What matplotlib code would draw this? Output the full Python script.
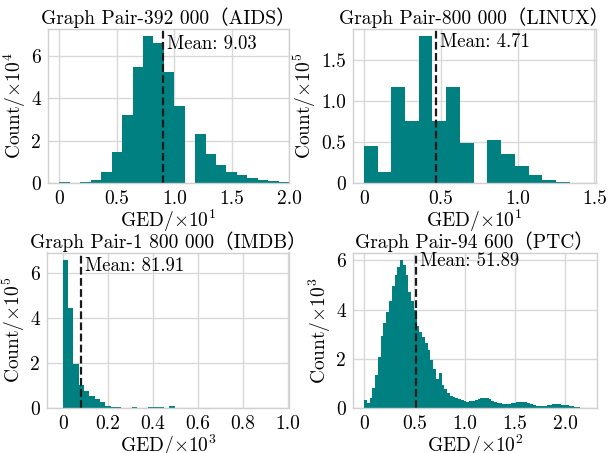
import numpy as np
import matplotlib
matplotlib.use("Agg")
import matplotlib.pyplot as plt

plt.rcParams['font.family'] = ['cmr10', 'Noto Sans CJK SC', 'DejaVu Serif']
plt.rcParams['mathtext.fontset'] = 'cm'
plt.rcParams['axes.unicode_minus'] = False
plt.rcParams['axes.formatter.use_mathtext'] = True

# ---------------- data ----------------
titles = ["Graph Pair-392 000（AIDS）", "Graph Pair-800 000（LINUX）",
          "Graph Pair-1 800 000（IMDB）", "Graph Pair-94 600（PTC）"]
means = [0.903, 0.471, 0.08191, 0.5189]
mean_labels = ["Mean: 9.03", "Mean: 4.71", "Mean: 81.91", "Mean: 51.89"]
x_units = ["1", "1", "3", "2"]
y_units = ["4", "5", "5", "3"]

aids_range = (0.0, 2.0)
aids_counts = [0.05, 0.0, 0.05, 0.17, 0.54, 1.48, 3.22, 5.48, 6.93, 6.61, 5.23, 3.62,
               0.0, 2.3, 1.36, 0.85, 0.52, 0.38, 0.25, 0.16, 0.1, 0.05]

linux_range = (0.0, 1.34)
linux_counts = [0.45, 0.14, 1.17, 0.76, 1.79, 0.76, 1.17, 0.49, 0.0, 0.53, 0.35,
                0.21, 0.1, 0.04, 0.01]

imdb_range = (0.0, 0.9)
imdb_counts = [6.6, 4.47, 1.95, 1.02, 0.78, 0.55, 0.4, 0.27, 0.12, 0.07, 0.04, 0.03,
               0.02, 0.05, 0.02, 0.02, 0.05, 0.06, 0.05, 0.02, 0.1, 0.02, 0.02, 0.02,
               0.02, 0.02, 0.02, 0.02, 0.02, 0.02, 0.02, 0.02, 0.0, 0.0, 0.0, 0.03,
               0.03, 0.0]

ptc_range = (0.0, 2.2)
ptc_counts = [0.34, 0.2, 0.41, 0.82, 1.36, 2.1, 2.92, 3.47, 3.9, 4.35, 4.97, 5.4,
              5.75, 6.02, 5.8, 5.4, 4.7, 4.35, 4.0, 3.35, 3.1, 2.9, 2.65, 2.35,
              1.95, 1.6, 1.2, 1.45, 0.95, 0.78, 0.63, 0.5, 0.45, 0.42, 0.38, 0.34,
              0.3, 0.27, 0.28, 0.31, 0.35, 0.39, 0.42, 0.43, 0.41, 0.37, 0.31, 0.27,
              0.22, 0.2, 0.18, 0.17, 0.19, 0.22, 0.23, 0.25, 0.27, 0.26, 0.27, 0.22,
              0.17, 0.13, 0.1, 0.08, 0.08, 0.09, 0.12, 0.15, 0.16, 0.16, 0.16, 0.15,
              0.15, 0.14, 0.11, 0.08, 0.06, 0.04, 0.02, 0.01]

x_ticks = [[0, 0.5, 1.0, 1.5, 2.0], [0, 0.5, 1.0, 1.5],
           [0, 0.2, 0.4, 0.6, 0.8, 1.0], [0, 0.5, 1.0, 1.5, 2.0]]
x_ticklabels = [["0", "0.5", "1.0", "1.5", "2.0"], ["0", "0.5", "1.0", "1.5"],
                ["0", "0.2", "0.4", "0.6", "0.8", "1.0"], ["0", "0.5", "1.0", "1.5", "2.0"]]
y_ticks = [[0, 2, 4, 6], [0, 0.5, 1.0, 1.5], [0, 2, 4, 6], [0, 2, 4, 6]]
y_ticklabels = [["0", "2", "4", "6"], ["0", "0.5", "1.0", "1.5"],
                ["0", "2", "4", "6"], ["0", "2", "4", "6"]]
x_limits = [(-0.1, 2.0), (-0.07, 1.51), (-0.07, 1.005), (-0.11, 2.31)]

ranges = [aids_range, linux_range, imdb_range, ptc_range]
counts = [aids_counts, linux_counts, imdb_counts, ptc_counts]

# ---------------- layout ----------------
W, H = 608, 453
fig = plt.figure(figsize=(W / 100, H / 100), dpi=100)
rects_px = [(48, 28.5, 289, 183.3), (353, 28.5, 596, 183.3),
            (47, 252.5, 289, 408.3), (353, 252.5, 596.5, 408.3)]
text_y = [0.9, 0.91, 0.915, 0.945]
teal = "#008080"

for i in range(4):
    l, t, r, b = rects_px[i]
    ax = fig.add_axes([l / W, 1 - b / H, (r - l) / W, (b - t) / H])
    c = np.asarray(counts[i])
    edges = np.linspace(ranges[i][0], ranges[i][1], len(c) + 1)
    ax.stairs(c, edges, fill=True, color=teal, linewidth=0)
    ax.set_ylim(0, c.max() * 1.05)
    ax.set_xlim(*x_limits[i])
    ax.axvline(means[i], color="#1a1a1a", linestyle=(0, (3.5, 1.5)), linewidth=1.6)
    ax.annotate(mean_labels[i], xy=(means[i], text_y[i]),
                xycoords=ax.get_xaxis_transform(), xytext=(3, 0),
                textcoords="offset points", fontsize=13.5, va="center", ha="left")
    ax.set_xticks(x_ticks[i])
    ax.set_xticklabels(x_ticklabels[i])
    ax.set_yticks(y_ticks[i])
    ax.set_yticklabels(y_ticklabels[i])
    ax.tick_params(length=0, labelsize=14, pad=5)
    ax.grid(True, color="#d8d8d8", linewidth=1.0)
    ax.set_axisbelow(True)
    for s in ax.spines.values():
        s.set_color("#d0d0d0")
        s.set_linewidth(1.0)
    ax.set_title(titles[i], fontsize=14, pad=3)
    ax.set_xlabel(r"GED/$\times 10^{%s}$" % x_units[i], fontsize=14, labelpad=0)
    ax.set_ylabel(r"Count/$\times 10^{%s}$" % y_units[i], fontsize=14, labelpad=2)

fig.savefig("out.png", dpi=100, facecolor="white")
